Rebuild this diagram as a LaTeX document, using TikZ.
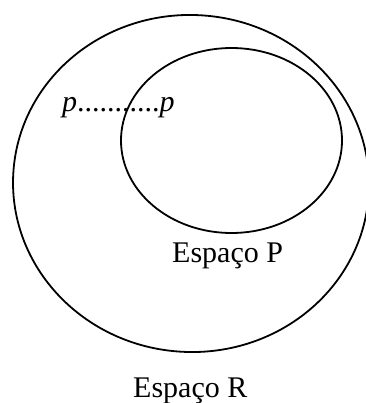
\documentclass[tikz,border=0pt]{standalone}
\usepackage{fontspec}
\setmainfont{Liberation Serif}
\usetikzlibrary{shapes.geometric}
\tikzset{
  space/.style={ellipse, draw, line width=1.8pt, inner sep=0pt},
  lbl/.style={font=\fontsize{30}{36}\selectfont, inner sep=0pt, anchor=base west}
}
\begin{document}
\begin{tikzpicture}[x=1pt,y=-1pt]
\useasboundingbox (0,0) rectangle (365,403);
\node[space, minimum width=356pt, minimum height=337pt, rotate=-3] (R) at (191,183.5) {};
\node[space, minimum width=221pt, minimum height=185pt] (P) at (231.5,140.5) {};
\node[lbl] (pp) at (62,112) {\textit{p}...........\textit{p}};
\node[lbl] (lp) at (172,262) {Espaço P};
\node[lbl] (lr) at (133,397) {Espaço R};
\end{tikzpicture}
\end{document}
